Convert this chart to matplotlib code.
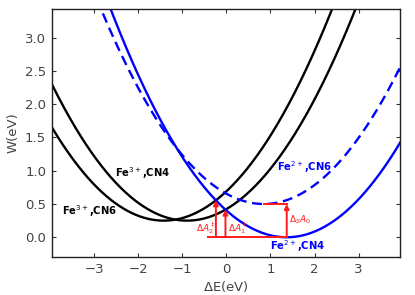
import numpy as np
import matplotlib
matplotlib.use('Agg')
from matplotlib import pyplot as plt

# parabola parameters: W = k * (dE - center)**2 + w_min
curve_names = ['Fe3+,CN6', 'Fe3+,CN4', 'Fe2+,CN4', 'Fe2+,CN6']
centers = [-1.42, -0.89, 1.37, 0.85]
minima = [0.25, 0.25, 0.0, 0.5]
curvature = [0.218, 0.218, 0.215, 0.215]

x_ticks = [-3, -2, -1, 0, 1, 2, 3]
y_ticks = [0.0, 0.5, 1.0, 1.5, 2.0, 2.5, 3.0]


def parabola(x, i):
    return curvature[i] * (x - centers[i]) ** 2 + minima[i]


def crossing(i, j):
    # left crossing of two parabolas, solved numerically on a fine grid
    xs = np.linspace(-3, centers[j], 20001)
    d = parabola(xs, i) - parabola(xs, j)
    k = np.argmin(np.abs(d))
    return xs[k], parabola(xs[k], j)


fig = plt.figure(figsize=(4.15, 2.95), dpi=100)
ax = fig.add_axes([0.1246, 0.128, 0.8394, 0.8415])

x = np.linspace(-4.2, 4.2, 800)
ax.plot(x, parabola(x, 0), color='black', lw=1.7)
ax.plot(x, parabola(x, 1), color='black', lw=1.7)
ax.plot(x, parabola(x, 2), color='blue', lw=1.7)
ax.plot(x, parabola(x, 3), color='blue', lw=1.7, ls='--', dashes=(4.2, 2.4))

red = '#ff1a1a'
x2, y2 = crossing(0, 2)
x1, y1 = crossing(1, 2)
ax.plot([-0.42, centers[2]], [minima[2], minima[2]], color=red, lw=1.4)
ax.plot([centers[3], centers[2]], [minima[3], minima[3]], color=red, lw=1.4)
arrow = dict(arrowstyle='-|>', color=red, lw=1.4, mutation_scale=7, shrinkA=0, shrinkB=0)
ax.annotate('', xy=(x2, y2), xytext=(x2, 0), arrowprops=arrow)
ax.annotate('', xy=(x1, y1), xytext=(x1, 0), arrowprops=arrow)
ax.annotate('', xy=(centers[2], minima[3]), xytext=(centers[2], 0), arrowprops=arrow)

ax.text(-0.68, 0.13, r'$\Delta A_2^\ddagger$', color=red, fontsize=6.5, va='center')
ax.text(0.04, 0.13, r'$\Delta A_1^\ddagger$', color=red, fontsize=6.5, va='center')
ax.text(1.42, 0.27, r'$\Delta_S A_0$', color=red, fontsize=6.5, va='center')

ax.text(-2.53, 0.97, r'Fe$^{3+}$,CN4', color='black', fontsize=7.2, fontweight='bold', va='center')
ax.text(-3.72, 0.40, r'Fe$^{3+}$,CN6', color='black', fontsize=7.2, fontweight='bold', va='center')
ax.text(1.14, 1.06, r'Fe$^{2+}$,CN6', color='blue', fontsize=7.2, fontweight='bold', va='center')
ax.text(1.0, -0.135, r'Fe$^{2+}$,CN4', color='blue', fontsize=7.2, fontweight='bold', va='center')

ax.set_xlim(-3.96, 3.94)
ax.set_ylim(-0.3, 3.43)
ax.set_xticks(x_ticks)
ax.set_yticks(y_ticks)
ax.set_xticklabels(['\u2212%d' % -t if t < 0 else str(t) for t in x_ticks])
ax.set_yticklabels(['%.1f' % t for t in y_ticks])
ax.tick_params(direction='in', top=True, right=True, length=3, width=0.8,
               labelsize=9.5, colors='#333333', labelcolor='#444444', pad=4)
for s in ax.spines.values():
    s.set_linewidth(1.0)
    s.set_color('#222222')

ax.set_xlabel(r'$\Delta$E(eV)', fontsize=9.5, color='#444444', labelpad=2)
ax.set_ylabel('W(eV)', fontsize=9.5, color='#444444', labelpad=4)

fig.savefig('out.png', dpi=100)
